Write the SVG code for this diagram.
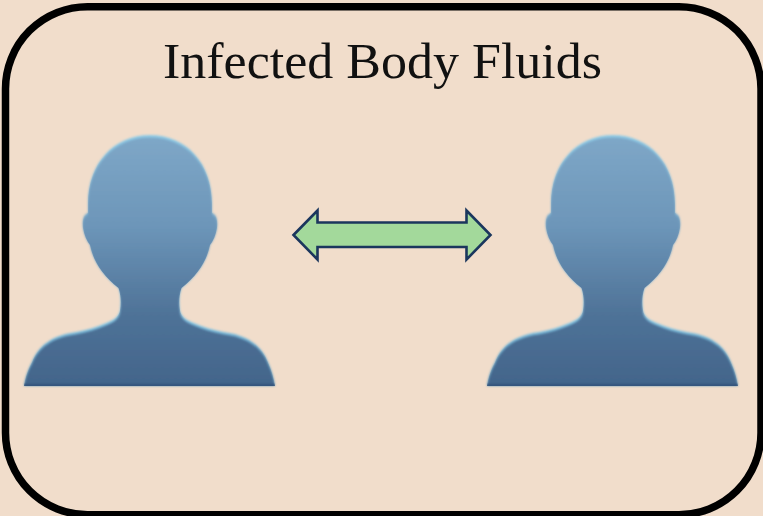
<svg xmlns="http://www.w3.org/2000/svg" xmlns:xlink="http://www.w3.org/1999/xlink" width="763" height="516" viewBox="0 0 763 516">
  <style>
    .frame{fill:#f1ddcb;stroke:#000;stroke-width:7.500}
    .title{font-family:"Liberation Serif","Times New Roman",serif;font-size:50px;fill:#111}
    .arrow{fill:#a3d99b;stroke:#1b365d;stroke-width:2.600;stroke-linejoin:miter}
    .rim{fill:url(#rimGrad)}
    .body{fill:url(#bodyGrad)}
  </style>
  <defs>
    <linearGradient id="bodyGrad" gradientUnits="userSpaceOnUse" x1="0" y1="135" x2="0" y2="386">
      <stop offset="0" stop-color="#7ea7c7"/>
      <stop offset="0.35" stop-color="#6d96b9"/>
      <stop offset="0.7" stop-color="#4f7398"/>
      <stop offset="1" stop-color="#42648a"/>
    </linearGradient>
    <linearGradient id="rimGrad" gradientUnits="userSpaceOnUse" x1="0" y1="135" x2="0" y2="386">
      <stop offset="0" stop-color="#8fcbe6"/>
      <stop offset="0.45" stop-color="#6f9fc2"/>
      <stop offset="0.75" stop-color="#84c4e2"/>
      <stop offset="1" stop-color="#5a94b8"/>
    </linearGradient>
    <path id="personShape" d="M150 135C187 135 212 164 212 203L212 213C216 214 218 219 217 228C216 235 213 241 210 245C207 261 197 276 181.500 288C179 296 179 303 180 310C181 316 186 320 194 323C203 327 213 330 224 332C248 335 262 346 268 362C272 371 274 379 275 386L24 386C25 379 27 371 32 362C38 346 52 335 76 332C87 330 97 327 106 323C114 320 119 316 120 310C121 303 121 296 118.500 288C103 276 93 261 90 245C87 241 84 235 83 228C82 219 84 214 88 213L88 203C88 164 113 135 150 135Z"/>
    <clipPath id="personClip"><use xlink:href="#personShape" href="#personShape"/></clipPath>
    <filter id="soft" x="-5%" y="-5%" width="110%" height="110%"><feGaussianBlur stdDeviation="0.800"/></filter>
    <g id="person">
      <use href="#personShape" class="rim" filter="url(#soft)"/>
      <g clip-path="url(#personClip)">
        <g filter="url(#soft)">
          <use href="#personShape" class="body" transform="translate(0 2.400)"/>
          <rect x="20" y="384" width="260" height="2.500" fill="#2f5078"/>
        </g>
      </g>
    </g>
  </defs>
  <rect id="background" width="763" height="516" fill="#f1ddcb"/>
  <g id="frame"><rect class="frame" x="5.500" y="6.700" width="755.500" height="508" rx="82" ry="82"/></g>
  <g id="title"><text class="title" x="163" y="77.700" textLength="439" lengthAdjust="spacingAndGlyphs">Infected Body Fluids</text></g>
  <g id="person-left"><use href="#person"/></g>
  <g id="person-right"><use href="#person" transform="translate(463 0)"/></g>
  <g id="connectors">
    <path id="double-arrow" class="arrow" d="M293.500 235L317.500 210.500L317.500 222.500L466.500 222.500L466.500 210.500L490.500 235L466.500 259.500L466.500 247L317.500 247L317.500 259.500Z"/>
  </g>
</svg>
